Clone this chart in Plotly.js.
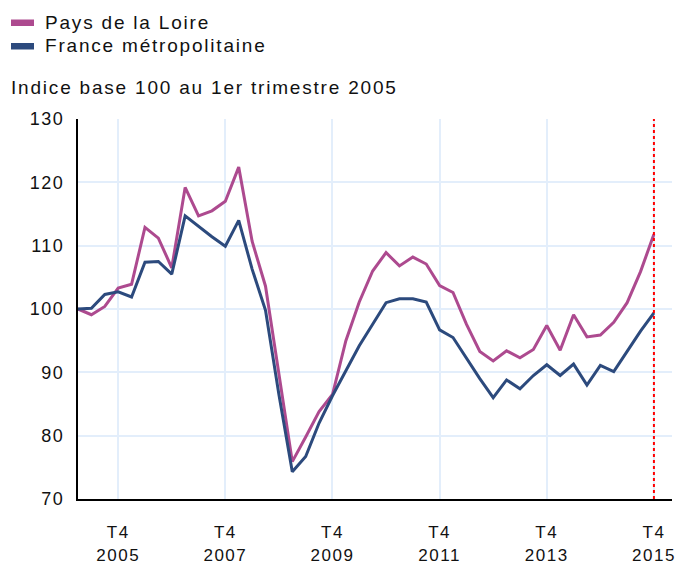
<!DOCTYPE html>
<html>
<head>
<meta charset="utf-8">
<script src="https://cdn.plot.ly/plotly-3.0.1.min.js"></script>
<style>
  html, body { margin: 0; padding: 0; background: #ffffff; }
  #chart { width: 676px; height: 564px; }
  .annotation-text { letter-spacing: 1.8px; }
  .xtick text, .ytick text { letter-spacing: 1.5px; }
</style>
</head>
<body>
<div id="chart"></div>
<script>
// Quarterly categories, 2005 T1 to 2015 T4
const quarters = [
  "T1 2005","T2 2005","T3 2005","T4 2005",
  "T1 2006","T2 2006","T3 2006","T4 2006",
  "T1 2007","T2 2007","T3 2007","T4 2007",
  "T1 2008","T2 2008","T3 2008","T4 2008",
  "T1 2009","T2 2009","T3 2009","T4 2009",
  "T1 2010","T2 2010","T3 2010","T4 2010",
  "T1 2011","T2 2011","T3 2011","T4 2011",
  "T1 2012","T2 2012","T3 2012","T4 2012",
  "T1 2013","T2 2013","T3 2013","T4 2013",
  "T1 2014","T2 2014","T3 2014","T4 2014",
  "T1 2015","T2 2015","T3 2015","T4 2015"
];

const paysDeLaLoire = [
  100.0, 99.1, 100.4, 103.3,
  103.9, 112.9, 111.2, 106.5,
  119.2, 114.7, 115.5, 117.0,
  122.4, 110.7, 103.6, 89.5,
  75.9, 79.8, 83.8, 86.5,
  95.0, 101.1, 106.0, 108.9,
  106.8, 108.2, 107.1, 103.7,
  102.6, 97.6, 93.3, 91.8,
  93.4, 92.3, 93.6, 97.4,
  93.5, 99.1, 95.6, 95.9,
  97.9, 101.0, 105.9, 111.8
];

const franceMetro = [
  100.0, 100.1, 102.3, 102.7,
  101.9, 107.4, 107.5, 105.5,
  114.7, 113.0, 111.4, 109.9,
  114.0, 106.3, 99.8, 86.5,
  74.3, 76.7, 82.0, 86.3,
  90.3, 94.2, 97.6, 101.0,
  101.6, 101.6, 101.1, 96.7,
  95.5, 92.2, 89.0, 86.0,
  88.8, 87.4, 89.5, 91.2,
  89.5, 91.3, 88.0, 91.1,
  90.1, 93.3, 96.5, 99.4
];

const xTickVals = ["T4 2005","T4 2007","T4 2009","T4 2011","T4 2013","T4 2015"];
const xTickText = ["T4<br>2005","T4<br>2007","T4<br>2009","T4<br>2011","T4<br>2013","T4<br>2015"];
const yTickVals = [70, 80, 90, 100, 110, 120, 130];

const seriesNames = ["Pays de la Loire", "France métropolitaine"];
const subtitle = "Indice base 100 au 1er trimestre 2005";

const PINK = "#ad4a8f";
const BLUE = "#2c4a7d";
const GRID = "#e3eefb";
const FONT = "Liberation Sans, Arial, sans-serif";

const W = 676, H = 564;
const M = { l: 78, r: 4, t: 119, b: 65 };
const pw = W - M.l - M.r, ph = H - M.t - M.b;
const px = x => (x - M.l) / pw;
const py = y => (H - M.b - y) / ph;

const traces = [
  { x: quarters, y: paysDeLaLoire, name: seriesNames[0], type: "scatter", mode: "lines",
    line: { color: PINK, width: 3 }, hoverinfo: "skip" },
  { x: quarters, y: franceMetro, name: seriesNames[1], type: "scatter", mode: "lines",
    line: { color: BLUE, width: 3 }, hoverinfo: "skip" }
];

const lastCat = quarters[quarters.length - 1];

const layout = {
  width: W, height: H,
  margin: M,
  paper_bgcolor: "#ffffff",
  plot_bgcolor: "#ffffff",
  showlegend: false,
  font: { family: FONT, size: 18, color: "#111111" },
  xaxis: {
    type: "category",
    categoryarray: quarters,
    range: [0, 44.35],
    tickmode: "array",
    tickvals: xTickVals,
    ticktext: xTickText,
    ticks: "outside",
    ticklen: 17,
    tickcolor: "rgba(0,0,0,0)",
    tickfont: { family: FONT, size: 17, color: "#111111" },
    showgrid: true,
    gridcolor: GRID,
    gridwidth: 2,
    showline: true,
    linecolor: "#000000",
    linewidth: 2,
    zeroline: false,
    fixedrange: true
  },
  yaxis: {
    range: [70, 130],
    tickmode: "array",
    tickvals: yTickVals,
    ticks: "outside",
    ticklen: 8,
    tickcolor: "rgba(0,0,0,0)",
    tickfont: { family: FONT, size: 18, color: "#111111" },
    showgrid: true,
    gridcolor: GRID,
    gridwidth: 2,
    showline: true,
    linecolor: "#000000",
    linewidth: 2,
    zeroline: false,
    fixedrange: true
  },
  shapes: [
    { type: "line", xref: "x", yref: "paper", x0: lastCat, x1: lastCat, y0: 0, y1: 1,
      line: { color: "#ff0000", width: 2, dash: "dot" } },
    { type: "rect", xref: "paper", yref: "paper", x0: px(11), x1: px(34), y0: py(26), y1: py(19.5),
      fillcolor: PINK, line: { width: 0 } },
    { type: "rect", xref: "paper", yref: "paper", x0: px(11), x1: px(34), y0: py(49.5), y1: py(43),
      fillcolor: BLUE, line: { width: 0 } }
  ],
  annotations: [
    { xref: "paper", yref: "paper", x: px(43), y: py(22), xanchor: "left", yanchor: "middle",
      align: "left", showarrow: false, text: seriesNames[0],
      font: { family: FONT, size: 19, color: "#111111" } },
    { xref: "paper", yref: "paper", x: px(43), y: py(45.5), xanchor: "left", yanchor: "middle",
      align: "left", showarrow: false, text: seriesNames[1],
      font: { family: FONT, size: 19, color: "#111111" } },
    { xref: "paper", yref: "paper", x: px(9), y: py(87.5), xanchor: "left", yanchor: "middle",
      align: "left", showarrow: false, text: subtitle,
      font: { family: FONT, size: 19, color: "#111111" } }
  ]
};

Plotly.newPlot("chart", traces, layout, { displayModeBar: false, staticPlot: true });
</script>
</body>
</html>
